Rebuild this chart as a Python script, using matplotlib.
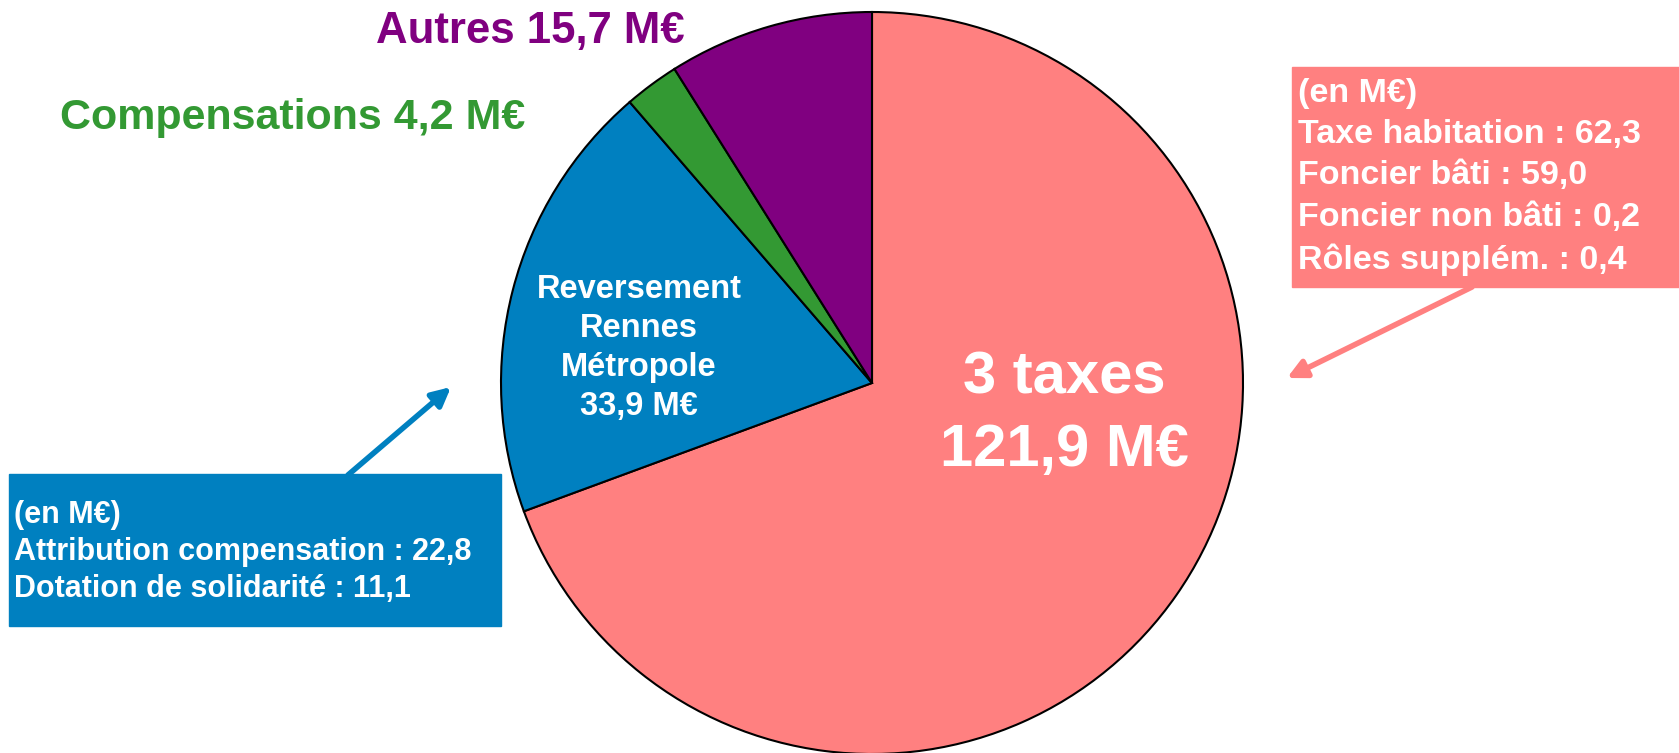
import matplotlib.pyplot as plt
from matplotlib.patches import Rectangle

# donnees du graphique (en M€)
labels = ["3 taxes", "Reversement\nRennes\nMétropole", "Compensations", "Autres"]
values = [121.9, 33.9, 4.2, 15.7]
colors = ["#FF8080", "#0080C0", "#339933", "#800080"]

taxes_details = ["Taxe habitation", "Foncier bâti", "Foncier non bâti", "Rôles supplém."]
taxes_values = [62.3, 59.0, 0.2, 0.4]
reversement_details = ["Attribution compensation", "Dotation de solidarité"]
reversement_values = [22.8, 11.1]


def fr(v):
    return f"{v:.1f}".replace(".", ",")


plt.rcParams['font.family'] = ['Liberation Sans', 'DejaVu Sans']
plt.rcParams['font.weight'] = 'bold'

W, H = 1679, 753
fig = plt.figure(figsize=(W / 100, H / 100), dpi=100)
ax = fig.add_axes([0, 0, 1, 1])

cx, cy, r = 872, 383, 371   # centre et rayon du camembert (pixels)
ax.pie(values, colors=colors, center=(cx, cy), radius=r, startangle=-90,
       counterclock=True, wedgeprops=dict(edgecolor="black", linewidth=1.5))
ax.set_xlim(0, W)
ax.set_ylim(H, 0)
ax.axis("off")

# etiquettes dans les parts
ax.text(1064, 414, f"{labels[0]}\n{fr(values[0])} M€", color="white", fontsize=43,
        ha="center", va="center", linespacing=1.4)
ax.text(639, 348, f"{labels[1]}\n{fr(values[1])} M€", color="white", fontsize=23.5,
        ha="center", va="center", linespacing=1.33)

# etiquettes exterieures
ax.text(530, 31, f"{labels[3]} {fr(values[3])} M€", color=colors[3], fontsize=31.5,
        ha="center", va="center")
ax.text(293, 118, f"{labels[2]} {fr(values[2])} M€", color=colors[2], fontsize=31,
        ha="center", va="center")

# encadre 3 taxes
ax.add_patch(Rectangle((1292, 67), W - 1292, 220, color=colors[0], zorder=3))
txt = "(en M€)\n" + "\n".join(f"{n} : {fr(v)}" for n, v in zip(taxes_details, taxes_values))
ax.text(1298, 177, txt, color="white", fontsize=24.5, ha="left", va="center",
        linespacing=1.42, zorder=4)
ax.annotate("", xy=(1287, 378), xytext=(1472, 287),
            arrowprops=dict(arrowstyle="-|>", color=colors[0], lw=4, mutation_scale=28,
                            shrinkA=0, shrinkB=0), zorder=3)

# encadre reversement
ax.add_patch(Rectangle((9, 474), 492, 152, color=colors[1], zorder=3))
txt = "(en M€)\n" + "\n".join(f"{n} : {fr(v)}" for n, v in zip(reversement_details, reversement_values))
ax.text(14, 552, txt, color="white", fontsize=22, ha="left", va="center",
        linespacing=1.3, zorder=4)
ax.annotate("", xy=(451, 387), xytext=(348, 475),
            arrowprops=dict(arrowstyle="-|>", color=colors[1], lw=4, mutation_scale=28,
                            shrinkA=0, shrinkB=0), zorder=3)

fig.savefig("out.png", dpi=100)
